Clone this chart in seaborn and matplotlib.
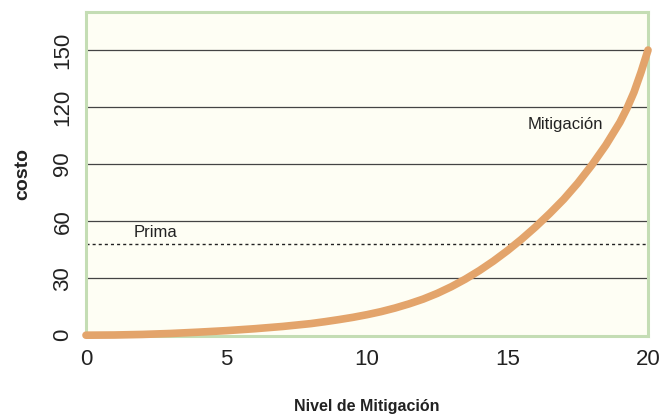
import matplotlib
matplotlib.use("Agg")
import matplotlib.pyplot as plt
import seaborn as sns
import pandas as pd

# data
nivel = [0, 1, 2, 3, 4, 5, 6, 7, 8, 8.5, 9, 9.5, 10, 10.5, 11, 11.5, 12, 12.5, 13, 13.5,
         14, 14.5, 15, 15.5, 16, 16.5, 17, 17.5, 18, 18.5, 19, 19.25, 19.5, 19.75, 20]
costo = [0, 0.1, 0.4, 0.9, 1.6, 2.4, 3.4, 4.6, 6.1, 7.1, 8.2, 9.4, 10.8, 12.4, 14.3, 16.5,
         19.0, 22.0, 25.5, 29.5, 34.0, 39.0, 44.5, 50.5, 57.0, 64.0, 71.5, 80.0, 89.5,
         100.0, 112.0, 119.3, 127.8, 138.3, 150.0]
prima = 48
xticks = [0, 5, 10, 15, 20]
yticks = [0, 30, 60, 90, 120, 150]
grid_levels = [30, 60, 90, 120, 150]

sns.set_style("white")
plt.rcParams['font.family'] = ['Liberation Sans', 'DejaVu Sans']

df = pd.DataFrame({"nivel": nivel, "costo": costo})

fig = plt.figure(figsize=(6.63, 4.15), dpi=100)
ax = fig.add_axes([0.1297, 0.19, 0.8477, 0.781])
ax.set_facecolor("#FEFEF4")

for g in grid_levels:
    ax.axhline(g, color="#444444", lw=0.9, zorder=1)
ax.axhline(prima, color="#222222", lw=1.0, ls=(0, (2.2, 2.2)), zorder=1)

sns.lineplot(data=df, x="nivel", y="costo", ax=ax, color="#E3A46B", lw=5.5,
             solid_capstyle="round", solid_joinstyle="round", zorder=3, clip_on=False)

ax.set_xlim(0, 20)
ax.set_ylim(-0.5, 170)
ax.set_xticks(xticks)
ax.set_yticks(yticks)
ax.set_xticklabels([str(v) for v in xticks], fontsize=16, color="#222222")
ax.set_yticklabels([str(v) for v in yticks], fontsize=16, color="#222222",
                   rotation=90, va="center")
ax.tick_params(axis="x", length=0, pad=9)
ax.tick_params(axis="y", length=0, pad=9)

for s in ax.spines.values():
    s.set_color("#C4DDB4")
    s.set_linewidth(2.2)

ax.set_xlabel("Nivel de Mitigación", fontsize=11.5, fontweight="bold", color="#222222", labelpad=21)
ax.set_ylabel("costo", fontsize=14, fontweight="bold", color="#222222", labelpad=15)

ax.text(1.7, prima + 2, "Prima", fontsize=12, color="#222222", ha="left", va="bottom")
ax.text(17.05, 111, "Mitigación", fontsize=12, color="#222222", ha="center", va="center")

fig.savefig("out.png", dpi=100)
